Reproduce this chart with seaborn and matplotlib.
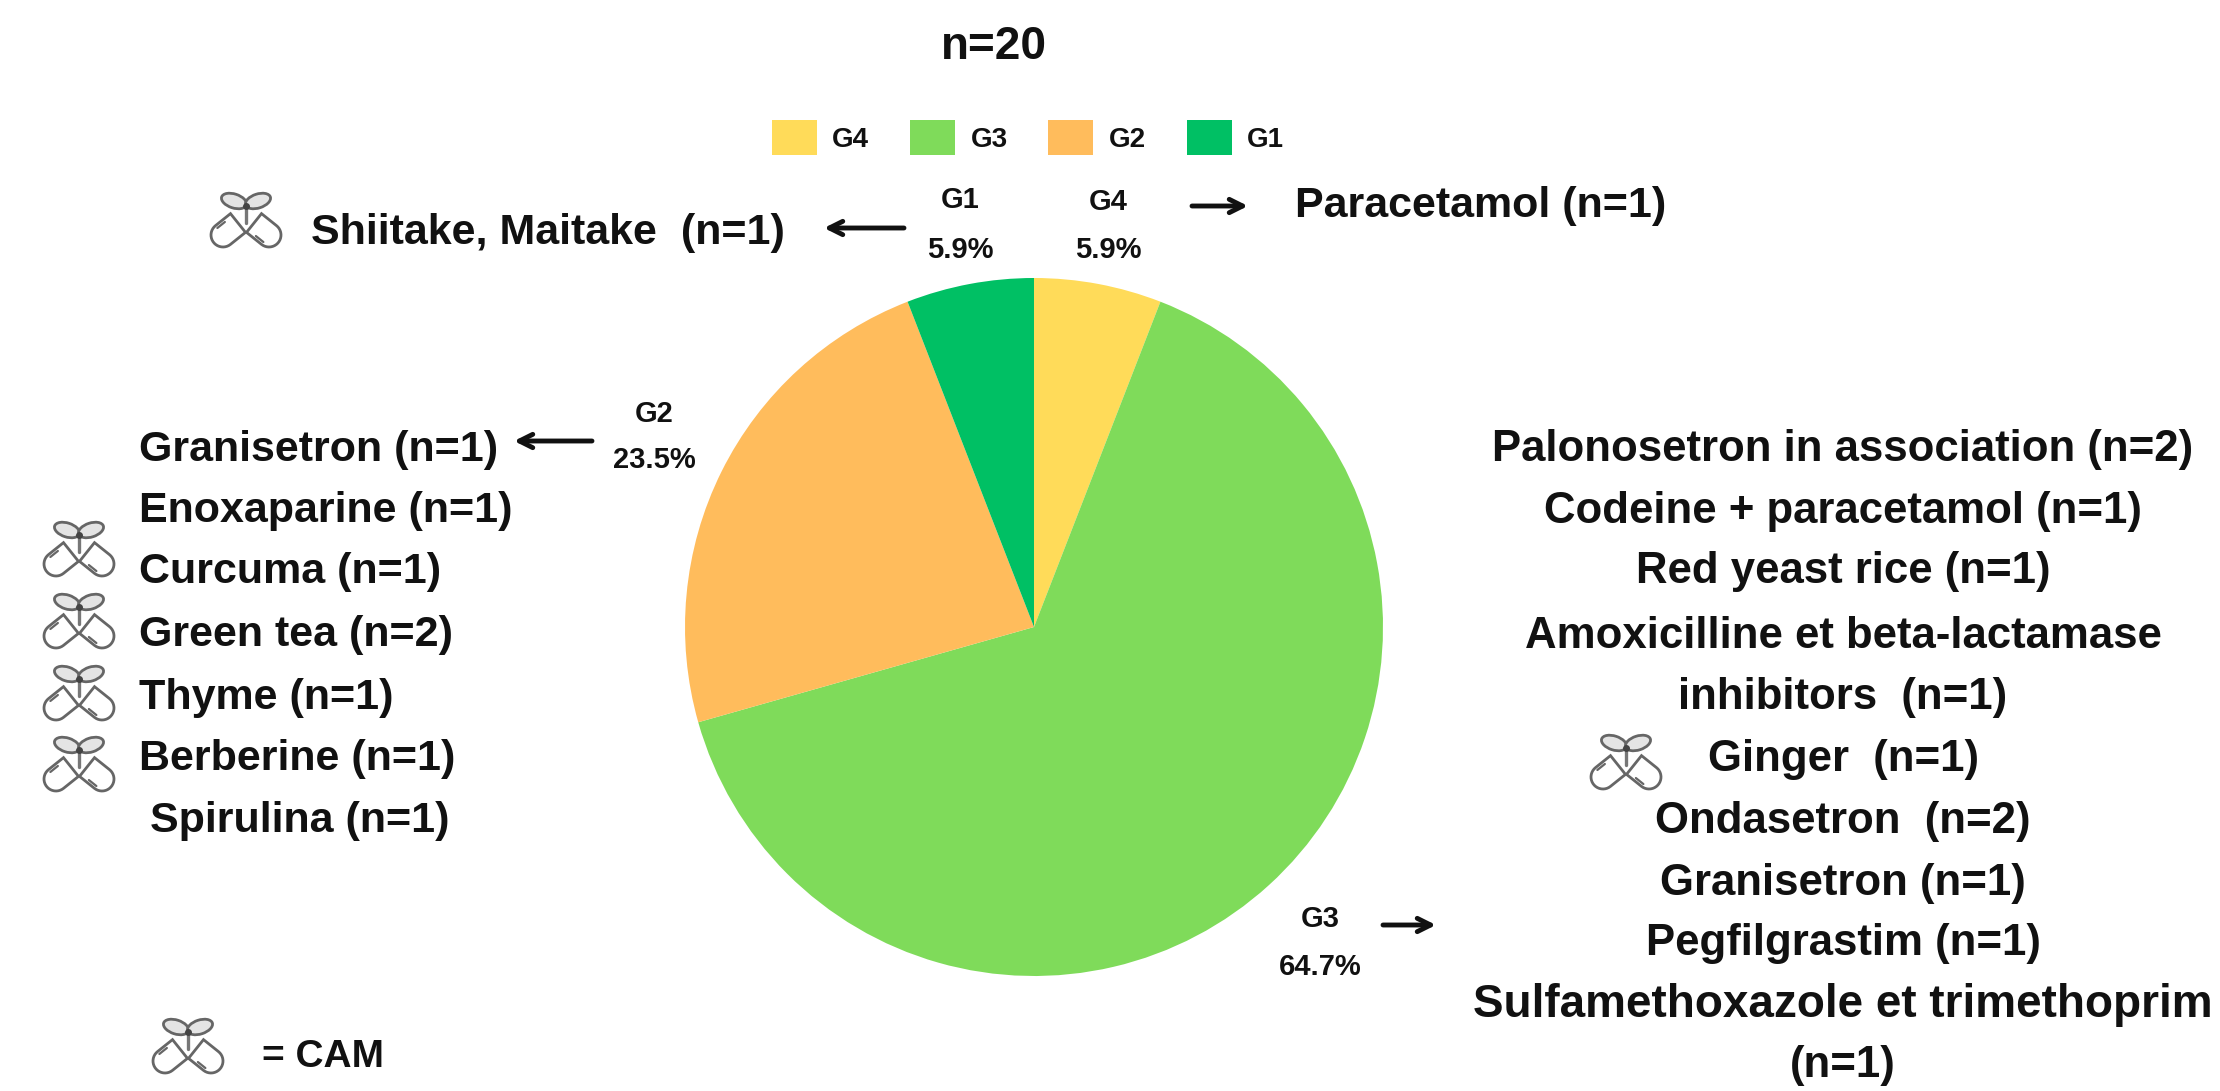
import numpy as np
import matplotlib
matplotlib.use("Agg")
import matplotlib.pyplot as plt
from matplotlib.patches import Ellipse, Polygon
import seaborn as sns

grades = ["G4", "G3", "G2", "G1"]
shares = [5.9, 64.7, 23.5, 5.9]
grade_colors = ["#FFDB59", "#7FDB5A", "#FFBC5C", "#00C064"]

total_label = "n=20"
g1_agents = ["Shiitake, Maitake  (n=1)"]
g4_agents = ["Paracetamol (n=1)"]
g2_agents = ["Granisetron (n=1)", "Enoxaparine (n=1)", "Curcuma (n=1)",
             "Green tea (n=2)", "Thyme (n=1)", "Berberine (n=1)", "Spirulina (n=1)"]
g3_agents = ["Palonosetron in association (n=2)", "Codeine + paracetamol (n=1)",
             "Red yeast rice (n=1)", "Amoxicilline et beta-lactamase",
             "inhibitors  (n=1)", "Ginger  (n=1)", "Ondasetron  (n=2)",
             "Granisetron (n=1)", "Pegfilgrastim (n=1)",
             "Sulfamethoxazole et trimethoprim", "(n=1)"]

sns.set_theme(style="white")
plt.rcParams["font.family"] = ["Liberation Sans", "DejaVu Sans"]
palette = sns.color_palette(grade_colors)

W, H = 2220, 1091
fig = plt.figure(figsize=(W / 100, H / 100), dpi=100, facecolor="white")

# The pie sits in its own square axes, measured in figure pixels.
cx, cy, r = 1034, 627, 349
pie_ax = fig.add_axes([(cx - r) / W, 1 - (cy + r) / H, 2 * r / W, 2 * r / H])
wedges, _ = pie_ax.pie(shares, colors=palette, startangle=90, counterclock=False,
                       radius=1, wedgeprops={"linewidth": 0})
pie_ax.set_xlim(-1, 1)
pie_ax.set_ylim(-1, 1)

# Overlay in pixel coordinates for the annotation layout.
ov = fig.add_axes([0, 0, 1, 1], facecolor="none")
ov.set_xlim(0, W)
ov.set_ylim(H, 0)
ov.axis("off")

fig.legend(wedges, grades, ncol=4, frameon=False, loc="upper left",
           bbox_to_anchor=(772 / W, 1 - 120 / H), prop={"weight": "bold", "size": 20},
           handlelength=1.62, handleheight=1.55, handletextpad=0.55,
           columnspacing=1.47, borderpad=0.0, borderaxespad=0.0,
           labelcolor="#111111")


def capsule(x0, y0, x1, y1, w, color="#666666"):
    """Half-open capsule: rounded at (x0, y0), square at (x1, y1)."""
    ang = np.arctan2(y1 - y0, x1 - x0)
    t = np.linspace(ang + np.pi / 2, ang + 3 * np.pi / 2, 20)
    arc = np.c_[x0 + w * np.cos(t), y0 + w * np.sin(t)]
    n = np.array([-np.sin(ang), np.cos(ang)]) * w
    pts = np.vstack([arc, [x1 - n[0], y1 - n[1]], [x1 + n[0], y1 + n[1]]])
    ov.add_patch(Polygon(pts, closed=True, fc="white", ec=color, lw=2))
    xm, ym = (x0 + x1) / 2, (y0 + y1) / 2
    ov.plot([x0 - n[0] * 0.75, xm - n[0] * 0.75], [y0 - n[1] * 0.75, ym - n[1] * 0.75],
            color=color, lw=1.6, solid_capstyle="round")


def cam_icon(x, y, sx=1.0):
    """Plant-and-capsule symbol centred on (x, y)."""
    capsule(x - 23 * sx, y + 15, x - 8 * sx, y + 3, 12)
    capsule(x + 23 * sx, y + 15, x + 8 * sx, y + 3, 12)
    ov.plot([x, x], [y - 14, y + 3], color="#777777", lw=2.4)
    for sign in (-1, 1):
        ov.add_patch(Ellipse((x + sign * 12 * sx, y - 19), 26 * sx, 14,
                             angle=sign * -18, fc="#E4E4E4", ec="#666666", lw=2))
    ov.plot([x], [y - 14], "o", color="#444444", ms=4)


for ix, iy in [(246, 220), (79, 549), (79, 621), (79, 693), (79, 764), (188, 1046), (1626, 762)]:
    cam_icon(ix, iy)

text_kw = {"fontweight": "bold", "color": "#111111", "va": "center", "fontsize": 31}

ov.text(994, 47, total_label, ha="center", va="center", fontweight="bold",
        fontsize=33, color="#111111")

ov.text(311, 233, g1_agents[0], ha="left", **text_kw)
ov.text(1295, 206, g4_agents[0], ha="left", **text_kw)

g2_xs = [139, 139, 139, 139, 139, 139, 150]
g2_ys = [450, 511, 572, 635, 698, 759, 821]
for name, tx, ty in zip(g2_agents, g2_xs, g2_ys):
    ov.text(tx, ty, name, ha="left", **text_kw)

g3_ys = [450, 511, 572, 636, 698, 759, 822, 884, 943, 1005, 1066]
for name, ty in zip(g3_agents, g3_ys):
    size = 33 if name.startswith("Sulfa") else 31.5
    ov.text(1843, ty, name, ha="center", **{**text_kw, "fontsize": size})

ov.text(262, 1057, "= CAM", ha="left", **{**text_kw, "fontsize": 28})

# Grade and share beside each slice, in pie order.
label_xy = [(1108, 202, 250), (1320, 919, 967), (654, 414, 460), (960, 200, 250)]
for grade, share, (lx, ly1, ly2) in zip(grades, shares, label_xy):
    ov.text(lx, ly1, grade, ha="center", va="center", fontweight="bold", fontsize=21, color="#111111")
    ov.text(lx, ly2, f"{share}%", ha="center", va="center", fontweight="bold", fontsize=21, color="#111111")

arrows = [((904, 228), (824, 228)), ((1192, 206), (1248, 206)),
          ((592, 441), (514, 441)), ((1383, 925), (1436, 925))]
for start, end in arrows:
    ov.annotate("", xy=end, xytext=start,
                arrowprops={"arrowstyle": "->", "color": "#111111", "lw": 3.5,
                            "mutation_scale": 24, "shrinkA": 0, "shrinkB": 0})

fig.savefig("out.png", dpi=100, facecolor="white")
